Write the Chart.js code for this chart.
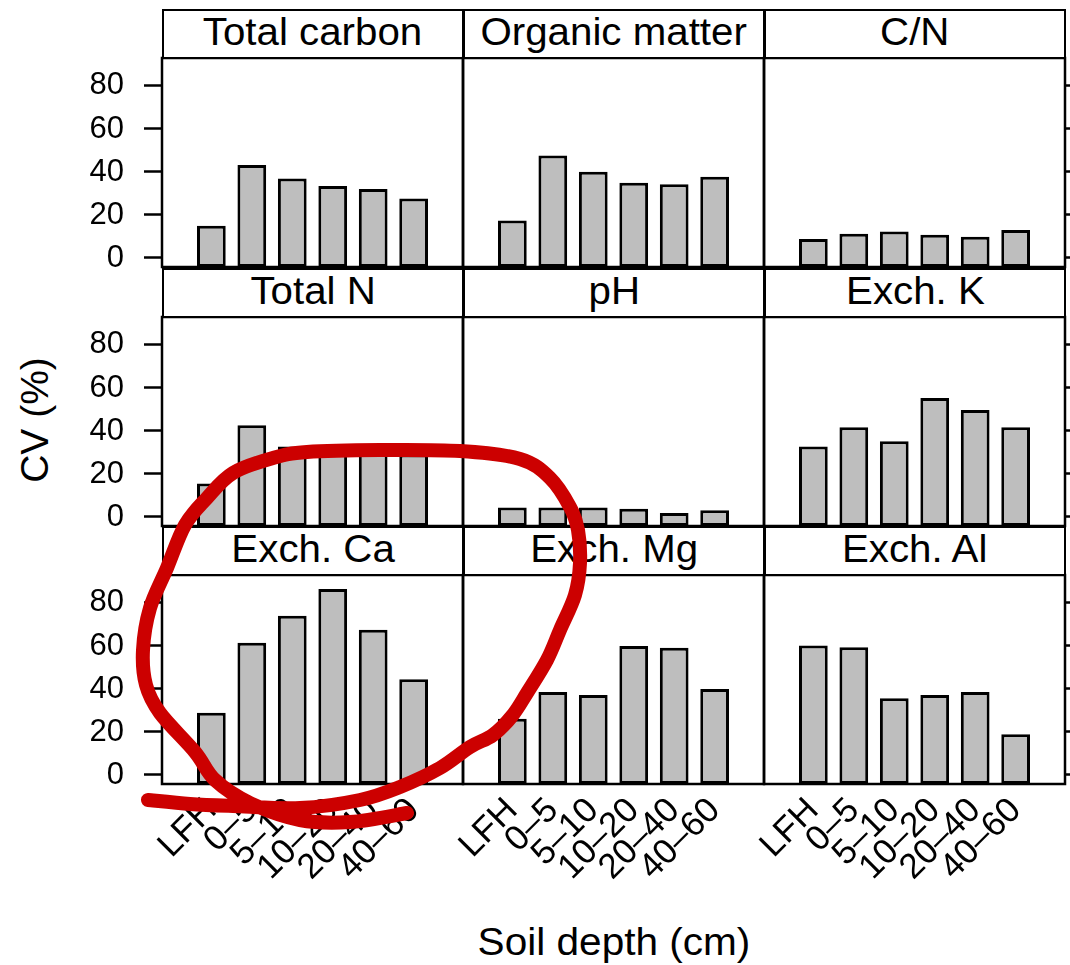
<!DOCTYPE html>
<html lang="en">
<head>
<meta charset="UTF-8">
<title>CV by soil depth</title>
<script src="https://cdn.jsdelivr.net/npm/chart.js@4.4.1/dist/chart.umd.min.js"></script>
<style>
  body { margin: 0; background: #fff; }
  #wrap { position: relative; width: 1070px; height: 965px; overflow: hidden; background: #fff;
          font-family: "Liberation Sans", Arial, sans-serif; color: #000; }
  .strip { position: absolute; box-sizing: border-box; border: 2.5px solid #000; background: #fff;
           text-align: center; font-size: 38px; line-height: 43px; white-space: nowrap; }
  .strip span { display: inline-block; transform: scaleX(1.06); }
  .cell { position: absolute; }
  .axis-title { position: absolute; font-size: 39px; white-space: nowrap; }
  #marks { position: absolute; left: 0; top: 0; pointer-events: none; }
</style>
</head>
<body>
<div id="wrap">
  <div class="axis-title" id="ytitle">CV (%)</div>
  <div class="axis-title" id="xtitle">Soil depth (cm)</div>
</div>

<script>
// soil depth classes (x axis)
const depths = ['LFH', '0–5', '5–10', '10–20', '20–40', '40–60'];
const panelTitles = ['Total carbon', 'Organic matter', 'C/N',
                     'Total N', 'pH', 'Exch. K',
                     'Exch. Ca', 'Exch. Mg', 'Exch. Al'];

// CV (%) per depth
const totalCarbon   = [15.0, 43.2, 37.0, 33.5, 32.1, 27.6];
const organicMatter = [17.4, 47.7, 40.1, 35.0, 34.3, 37.8];
const cnRatio       = [8.8, 11.3, 12.3, 10.8, 9.9, 13.0];
const totalN        = [15.6, 42.7, 32.8, 31.0, 30.0, 29.0];
const pH            = [4.4, 4.4, 4.4, 3.8, 1.9, 3.1];
const exchK         = [32.8, 41.7, 35.2, 55.3, 49.8, 41.7];
const exchCa        = [28.9, 61.5, 74.0, 86.5, 67.5, 44.5];
const exchMg        = [26.2, 38.6, 37.2, 60.0, 59.2, 40.0];
const exchAl        = [60.2, 59.4, 35.7, 37.2, 38.6, 18.9];

const yTicks = [0, 20, 40, 60, 80];
const yMin = -4.2, yMax = 93;

const panelValues = [totalCarbon, organicMatter, cnRatio, totalN, pH, exchK, exchCa, exchMg, exchAl];

// lattice geometry
const colLeft = [162, 463, 764];
const rowTop = [9, 268, 526];
const panelW = 301, stripH = 49, plotH = 209;
const padL = 90, padR = 30, padT = 10, padB = 150;

const font = '"Liberation Sans", Arial, sans-serif';
const barFill = '#bebebe';

// black box round each panel
const framePlugin = {
  id: 'panelFrame',
  afterDraw(chart) {
    const { ctx, chartArea: a } = chart;
    ctx.save();
    ctx.strokeStyle = '#000';
    ctx.lineWidth = 2.5;
    ctx.strokeRect(a.left, a.top, a.right - a.left, a.bottom - a.top);
    ctx.restore();
  }
};

const wrap = document.getElementById('wrap');

panelValues.forEach((values, idx) => {
  const row = Math.floor(idx / 3), col = idx % 3;
  const left = colLeft[col], top = rowTop[row];

  const strip = document.createElement('div');
  strip.className = 'strip';
  strip.style.left = left + 'px';
  strip.style.top = top + 'px';
  strip.style.width = (panelW + 1) + 'px';
  strip.style.height = (stripH + 1) + 'px';
  const label = document.createElement('span');
  label.textContent = panelTitles[idx];
  strip.appendChild(label);

  const cell = document.createElement('div');
  cell.className = 'cell';
  cell.style.left = (left - padL) + 'px';
  cell.style.top = (top + stripH - padT) + 'px';
  cell.style.width = (padL + panelW + padR) + 'px';
  cell.style.height = (padT + plotH + padB) + 'px';
  const canvas = document.createElement('canvas');
  cell.appendChild(canvas);
  wrap.appendChild(cell);
  wrap.appendChild(strip);

  const setYTicks = s => { s.ticks = yTicks.map(v => ({ value: v })); };
  // keep every panel's plot box the same size whatever its labels need
  const fixY = w => s => { s.width = w; s.paddingTop = 0; s.paddingBottom = 0; };

  new Chart(canvas, {
    type: 'bar',
    data: {
      datasets: [{
        data: values.map((v, i) => ({ x: i + 1, y: v })),
        backgroundColor: barFill,
        borderColor: '#000',
        borderWidth: 3,
        borderSkipped: false,
        base: yMin,
        barPercentage: 0.71,
        categoryPercentage: 1
      }]
    },
    options: {
      responsive: true,
      maintainAspectRatio: false,
      animation: false,
      events: [],
      layout: { padding: { top: padT, left: 0, right: 0, bottom: 0 } },
      plugins: { legend: { display: false }, tooltip: { enabled: false } },
      scales: {
        x: {
          type: 'linear',
          min: 0.4,
          max: 6.6,
          afterBuildTicks: s => { s.ticks = depths.map((_, i) => ({ value: i + 1 })); },
          afterFit: s => { s.height = padB; s.paddingLeft = 0; s.paddingRight = 0; },
          ticks: {
            display: row === 2,
            autoSkip: false,
            minRotation: 45,
            maxRotation: 45,
            padding: 6,
            color: '#000',
            font: { family: font, size: 35 },
            callback: v => depths[v - 1]
          },
          grid: { drawOnChartArea: false, drawTicks: false },
          border: { display: false }
        },
        y: {
          position: 'left',
          min: yMin,
          max: yMax,
          afterBuildTicks: setYTicks,
          afterFit: fixY(padL),
          ticks: {
            display: col === 0,
            padding: 20,
            color: '#000',
            font: { family: font, size: 31 }
          },
          grid: { drawOnChartArea: false, drawTicks: col === 0, tickLength: 18, tickWidth: 2.5, tickColor: '#000' },
          border: { display: false }
        },
        y2: {
          position: 'right',
          min: yMin,
          max: yMax,
          afterBuildTicks: setYTicks,
          afterFit: fixY(padR),
          ticks: { display: false },
          grid: { drawOnChartArea: false, drawTicks: col === 2, tickLength: 18, tickWidth: 2.5, tickColor: '#000' },
          border: { display: false }
        }
      }
    },
    plugins: [framePlugin]
  });
});

// axis titles
const yt = document.getElementById('ytitle');
yt.style.left = '35px';
yt.style.top = '420px';
yt.style.transform = 'translate(-50%, -50%) rotate(-90deg)';
const xt = document.getElementById('xtitle');
xt.style.left = '614px';
xt.style.top = '942px';
xt.style.transform = 'translate(-50%, -50%) scaleX(1.04)';

// red hand-drawn loop over the Exch. Ca panel
const loop = [
  [148, 800], [190, 804], [233, 806], [300, 808], [360, 800], [400, 787], [440, 768],
  [470, 747], [493, 735], [512, 716], [527, 693], [547, 660], [560, 630], [575, 595],
  [580, 563], [578, 530], [570, 507], [550, 478], [520, 459], [460, 451], [380, 450],
  [307, 452], [273, 458], [233, 473], [207, 498], [185, 525], [167, 568], [150, 608],
  [143, 650], [146, 685], [160, 713], [195, 752], [215, 780], [250, 803], [300, 820],
  [350, 822], [407, 813]
];

// Catmull-Rom through the points so the stroke reads as one smooth pen line
function smoothPath(pts) {
  let d = `M${pts[0][0]},${pts[0][1]}`;
  for (let i = 0; i < pts.length - 1; i++) {
    const p0 = pts[Math.max(i - 1, 0)], p1 = pts[i], p2 = pts[i + 1];
    const p3 = pts[Math.min(i + 2, pts.length - 1)];
    const c1 = [p1[0] + (p2[0] - p0[0]) / 6, p1[1] + (p2[1] - p0[1]) / 6];
    const c2 = [p2[0] - (p3[0] - p1[0]) / 6, p2[1] - (p3[1] - p1[1]) / 6];
    d += ` C${c1[0]},${c1[1]} ${c2[0]},${c2[1]} ${p2[0]},${p2[1]}`;
  }
  return d;
}

const svgNS = 'http://www.w3.org/2000/svg';
const svg = document.createElementNS(svgNS, 'svg');
svg.setAttribute('id', 'marks');
svg.setAttribute('width', '1070');
svg.setAttribute('height', '965');
const path = document.createElementNS(svgNS, 'path');
path.setAttribute('d', smoothPath(loop));
path.setAttribute('fill', 'none');
path.setAttribute('stroke', '#cc0000');
path.setAttribute('stroke-width', '14');
path.setAttribute('stroke-linejoin', 'round');
path.setAttribute('stroke-linecap', 'round');
svg.appendChild(path);
wrap.appendChild(svg);
</script>
</body>
</html>
